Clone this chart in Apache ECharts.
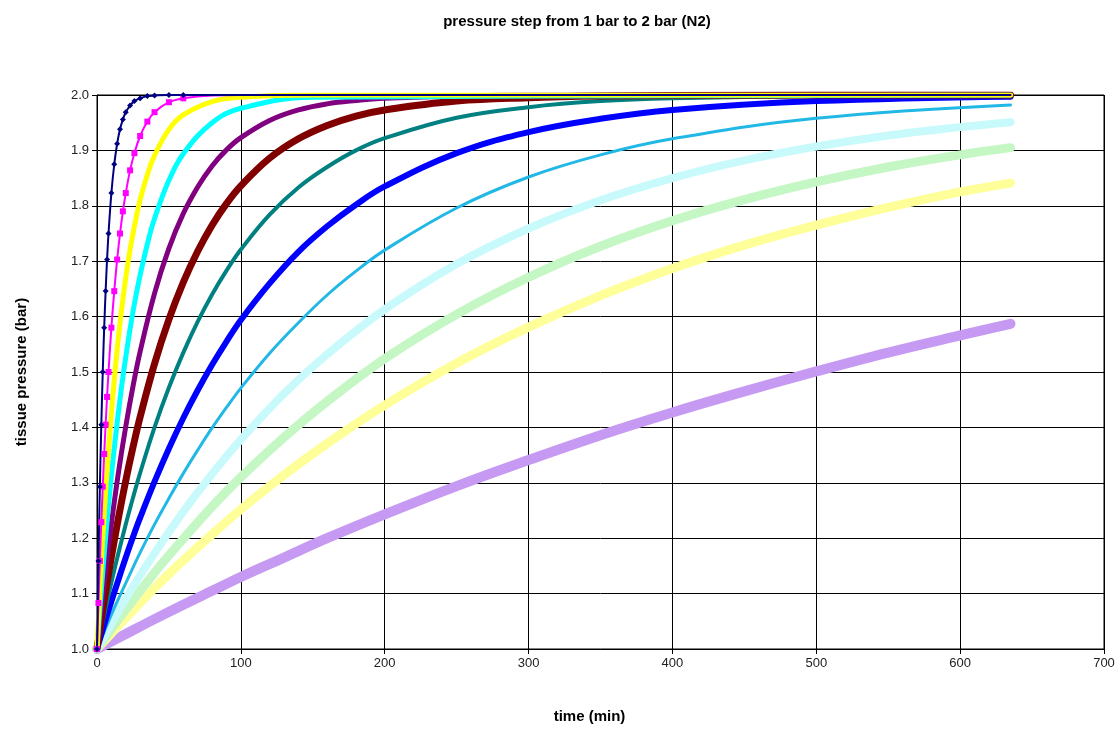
<!DOCTYPE html>
<html>
<head>
<meta charset="utf-8">
<script src="https://cdn.jsdelivr.net/npm/echarts@6/dist/echarts.min.js"></script>
<style>
html,body{margin:0;padding:0;background:#fff;}
#chart{width:1120px;height:729px;}
</style>
</head>
<body>
<div id="chart"></div>
<script>
// time samples (min)
const tA = [0,1,2,3,4,5,6,7,8,10,12,14,16,18,20,23,26,30,35,40,50,60,80,100,150,635];
const tB = [0,5,10,15,20,25,30,40,50,60,70,80,90,100,120,140,160,180,200,250,300,350,400,500,635];
const tC = [0,20,40,60,80,100,130,160,200,250,300,350,400,450,500,550,600,635];

// tissue pressure (bar)
const p4   = [1.000,1.159,1.293,1.405,1.500,1.580,1.646,1.703,1.750,1.823,1.875,1.912,1.938,1.956,1.969,1.981,1.989,1.994,1.998,1.999,2.000,2.000,2.000,2.000,2.000,2.000];
const p8   = [1.000,1.083,1.159,1.229,1.293,1.352,1.405,1.455,1.500,1.580,1.646,1.703,1.750,1.790,1.823,1.864,1.895,1.926,1.952,1.969,1.987,1.994,1.999,2.000,2.000,2.000];
const p12  = [1.000,1.054,1.105,1.153,1.199,1.242,1.283,1.322,1.358,1.426,1.486,1.540,1.588,1.631,1.670,1.721,1.763,1.811,1.856,1.891,1.938,1.964,1.988,1.996,2.000,2.000];
const p18  = [1.000,1.037,1.072,1.106,1.139,1.171,1.201,1.231,1.259,1.313,1.362,1.408,1.451,1.491,1.527,1.578,1.623,1.675,1.731,1.777,1.846,1.894,1.950,1.976,1.996,2.000];

const p27  = [1.000,1.121,1.226,1.320,1.402,1.474,1.537,1.642,1.723,1.786,1.834,1.872,1.901,1.923,1.954,1.973,1.984,1.990,1.994,1.998,2.000,2.000,2.000,2.000,2.000];
const p38  = [1.000,1.087,1.166,1.238,1.304,1.364,1.419,1.515,1.595,1.662,1.718,1.765,1.804,1.836,1.886,1.921,1.945,1.962,1.973,1.989,1.995,1.998,1.999,2.000,2.000];
const p54  = [1.000,1.062,1.120,1.174,1.225,1.273,1.318,1.400,1.472,1.535,1.591,1.640,1.683,1.721,1.784,1.833,1.870,1.900,1.922,1.959,1.978,1.989,1.994,1.998,2.000];
const p77  = [1.000,1.044,1.086,1.126,1.165,1.202,1.237,1.302,1.362,1.417,1.467,1.513,1.555,1.594,1.660,1.717,1.763,1.802,1.835,1.895,1.933,1.957,1.973,1.989,1.997];
const p109 = [1.000,1.031,1.062,1.091,1.119,1.147,1.174,1.225,1.272,1.317,1.359,1.399,1.436,1.471,1.534,1.589,1.639,1.682,1.720,1.796,1.852,1.892,1.921,1.958,1.982];

const p146 = [1.000,1.091,1.173,1.248,1.316,1.378,1.461,1.532,1.613,1.695,1.759,1.810,1.850,1.882,1.907,1.927,1.942,1.951];
const p187 = [1.000,1.071,1.138,1.199,1.257,1.310,1.382,1.447,1.524,1.604,1.671,1.727,1.773,1.811,1.843,1.870,1.892,1.905];
const p239 = [1.000,1.056,1.110,1.160,1.207,1.252,1.314,1.371,1.440,1.516,1.581,1.638,1.687,1.729,1.765,1.797,1.825,1.841];
const p498 = [1.000,1.027,1.054,1.080,1.105,1.130,1.165,1.200,1.243,1.294,1.341,1.386,1.427,1.465,1.501,1.535,1.566,1.587];

const xTicks = [0,100,200,300,400,500,600,700];
const yTicks = [1.0,1.1,1.2,1.3,1.4,1.5,1.6,1.7,1.8,1.9,2.0];

function pairs(t, v){ return t.map((x,i)=>[x, v[i]]); }

function mk(name, t, v, color, width, symbol, symbolSize){
  return {
    name: name, type: 'line',
    data: pairs(t, v),
    smooth: 0.4,
    symbol: symbol || 'none',
    symbolSize: symbol ? (val => (val[0] <= 60 ? symbolSize : 0)) : 0,
    showSymbol: !!symbol,
    showAllSymbol: true,
    itemStyle: {color: color},
    lineStyle: {color: color, width: width, cap: 'round', join: 'round'},
    animation: false,
    silent: true
  };
}

const series = [
  mk('498', tC, p498, '#C69AF2', 10),
  mk('239', tC, p239, '#FFFF99', 9),
  mk('187', tC, p187, '#C4F7C4', 9),
  mk('146', tC, p146, '#C8FAFC', 8),
  mk('109', tB, p109, '#22B8E6', 3),
  mk('77',  tB, p77,  '#0000FF', 6),
  mk('54.3',tB, p54,  '#008080', 4),
  mk('38.3',tB, p38,  '#800000', 7),
  mk('27',  tB, p27,  '#800080', 5),
  mk('18.5',tA, p18,  '#00FFFF', 5),
  mk('12.5',tA, p12,  '#FFFF00', 5),
  mk('8',   tA, p8,   '#FF00FF', 2, 'rect', 6),
  mk('4',   tA, p4,   '#000080', 2, 'diamond', 6)
];

const chart = echarts.init(document.getElementById('chart'), null, {renderer: 'canvas'});
chart.setOption({
  backgroundColor: '#ffffff',
  animation: false,
  title: {
    text: 'pressure step from 1 bar to 2 bar (N2)',
    left: 572, top: 9, textAlign: 'center',
    textStyle: {fontFamily: 'Liberation Sans, Arial, sans-serif', fontSize: 15, fontWeight: 'bold', color: '#000'}
  },
  grid: {left: 97, right: 16, top: 95, bottom: 80, show: true, borderColor: '#000', borderWidth: 1, containLabel: false},
  xAxis: {
    type: 'value', min: xTicks[0], max: xTicks[xTicks.length-1], interval: 100,
    name: 'time (min)', nameLocation: 'middle', nameGap: 60,
    nameTextStyle: {fontFamily: 'Liberation Sans, Arial, sans-serif', fontSize: 15, fontWeight: 'bold', color: '#000', padding: [0, 22, 0, 0]},
    axisLine: {show: true, lineStyle: {color: '#000', width: 1}},
    axisTick: {show: true, inside: false, length: 5, lineStyle: {color: '#000'}},
    axisLabel: {fontFamily: 'Liberation Sans, Arial, sans-serif', fontSize: 13, color: '#222', margin: 8},
    splitLine: {show: true, lineStyle: {color: '#000', width: 1}}
  },
  yAxis: {
    type: 'value', min: yTicks[0], max: yTicks[yTicks.length-1], interval: 0.1,
    name: 'tissue pressure (bar)', nameLocation: 'middle', nameGap: 68,
    nameTextStyle: {fontFamily: 'Liberation Sans, Arial, sans-serif', fontSize: 15, fontWeight: 'bold', color: '#000'},
    axisLine: {show: true, lineStyle: {color: '#000', width: 1}},
    axisTick: {show: true, inside: false, length: 5, lineStyle: {color: '#000'}},
    axisLabel: {fontFamily: 'Liberation Sans, Arial, sans-serif', fontSize: 13, color: '#222', margin: 8,
      formatter: v => v.toFixed(1)},
    splitLine: {show: true, lineStyle: {color: '#000', width: 1}}
  },
  series: series
});
</script>
</body>
</html>
